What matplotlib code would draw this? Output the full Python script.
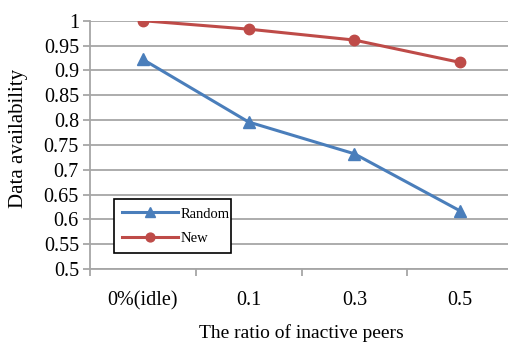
import matplotlib
matplotlib.use("Agg")
import matplotlib.pyplot as plt
from matplotlib.ticker import FixedLocator, NullFormatter

categories = ["0%(idle)", "0.1", "0.3", "0.5"]
random_vals = [0.922, 0.796, 0.732, 0.617]
new_vals = [1.0, 0.983, 0.961, 0.916]
y_ticks = [0.5, 0.55, 0.6, 0.65, 0.7, 0.75, 0.8, 0.85, 0.9, 0.95, 1.0]
y_labels = ["0.5", "0.55", "0.6", "0.65", "0.7", "0.75", "0.8", "0.85", "0.9", "0.95", "1"]

plt.rcParams["font.family"] = ["Liberation Serif", "DejaVu Serif"]

W, H = 508, 345
fig = plt.figure(figsize=(W / 100, H / 100), dpi=100)
left, right, top, bottom = 90, 513, 20.7, 269
ax = fig.add_axes([left / W, 1 - bottom / H, (right - left) / W, (bottom - top) / H])

grid_c = "#a6a6a6"
x = list(range(len(categories)))
ax.plot(x, random_vals, color="#4a7ebb", lw=2.2, marker="^", ms=8, label="Random", zorder=3)
ax.plot(x, new_vals, color="#be4b48", lw=2.2, marker="o", ms=7.5, label="New", zorder=3)

ax.set_ylim(0.5, 1.0)
ax.set_xlim(-0.5, 3.5)
ax.set_yticks(y_ticks)
ax.set_yticklabels(y_labels)
ax.yaxis.grid(True, color=grid_c, lw=1.3)
ax.set_axisbelow(True)

ax.set_xticks(x)
ax.set_xticklabels(categories)
ax.xaxis.set_minor_locator(FixedLocator([-0.5, 0.5, 1.5, 2.5, 3.5]))
ax.xaxis.set_minor_formatter(NullFormatter())
ax.tick_params(axis="x", which="major", length=0, pad=16, labelsize=14.5)
ax.tick_params(axis="x", which="minor", length=5, width=1.3, color=grid_c)
ax.tick_params(axis="y", length=5, width=1.3, color=grid_c, labelsize=14.5, pad=3)

for s in ["top", "right"]:
    ax.spines[s].set_visible(False)
for s in ["left", "bottom"]:
    ax.spines[s].set_color(grid_c)
    ax.spines[s].set_linewidth(1.3)

# axis titles placed in figure pixel space
fig.text(19 / W, 1 - 138.5 / H, "Data availability", rotation=90, ha="center", va="center", fontsize=15)
fig.text(301 / W, 1 - 333 / H, "The ratio of inactive peers", ha="center", va="center", fontsize=14)

leg = ax.legend(loc="lower left", bbox_to_anchor=((107 - left) / (right - left), (bottom - 260) / (bottom - top),
                                                   (238 - 107) / (right - left), (260 - 208) / (bottom - top)),
                mode="expand", fontsize=10.5, frameon=True, fancybox=False, edgecolor="black",
                handlelength=3.8, handletextpad=0.2, borderpad=0.55, labelspacing=0.75, markerscale=0.85)
leg.get_frame().set_linewidth(1.2)
leg.get_frame().set_alpha(1)

fig.savefig("out.png", dpi=100)
